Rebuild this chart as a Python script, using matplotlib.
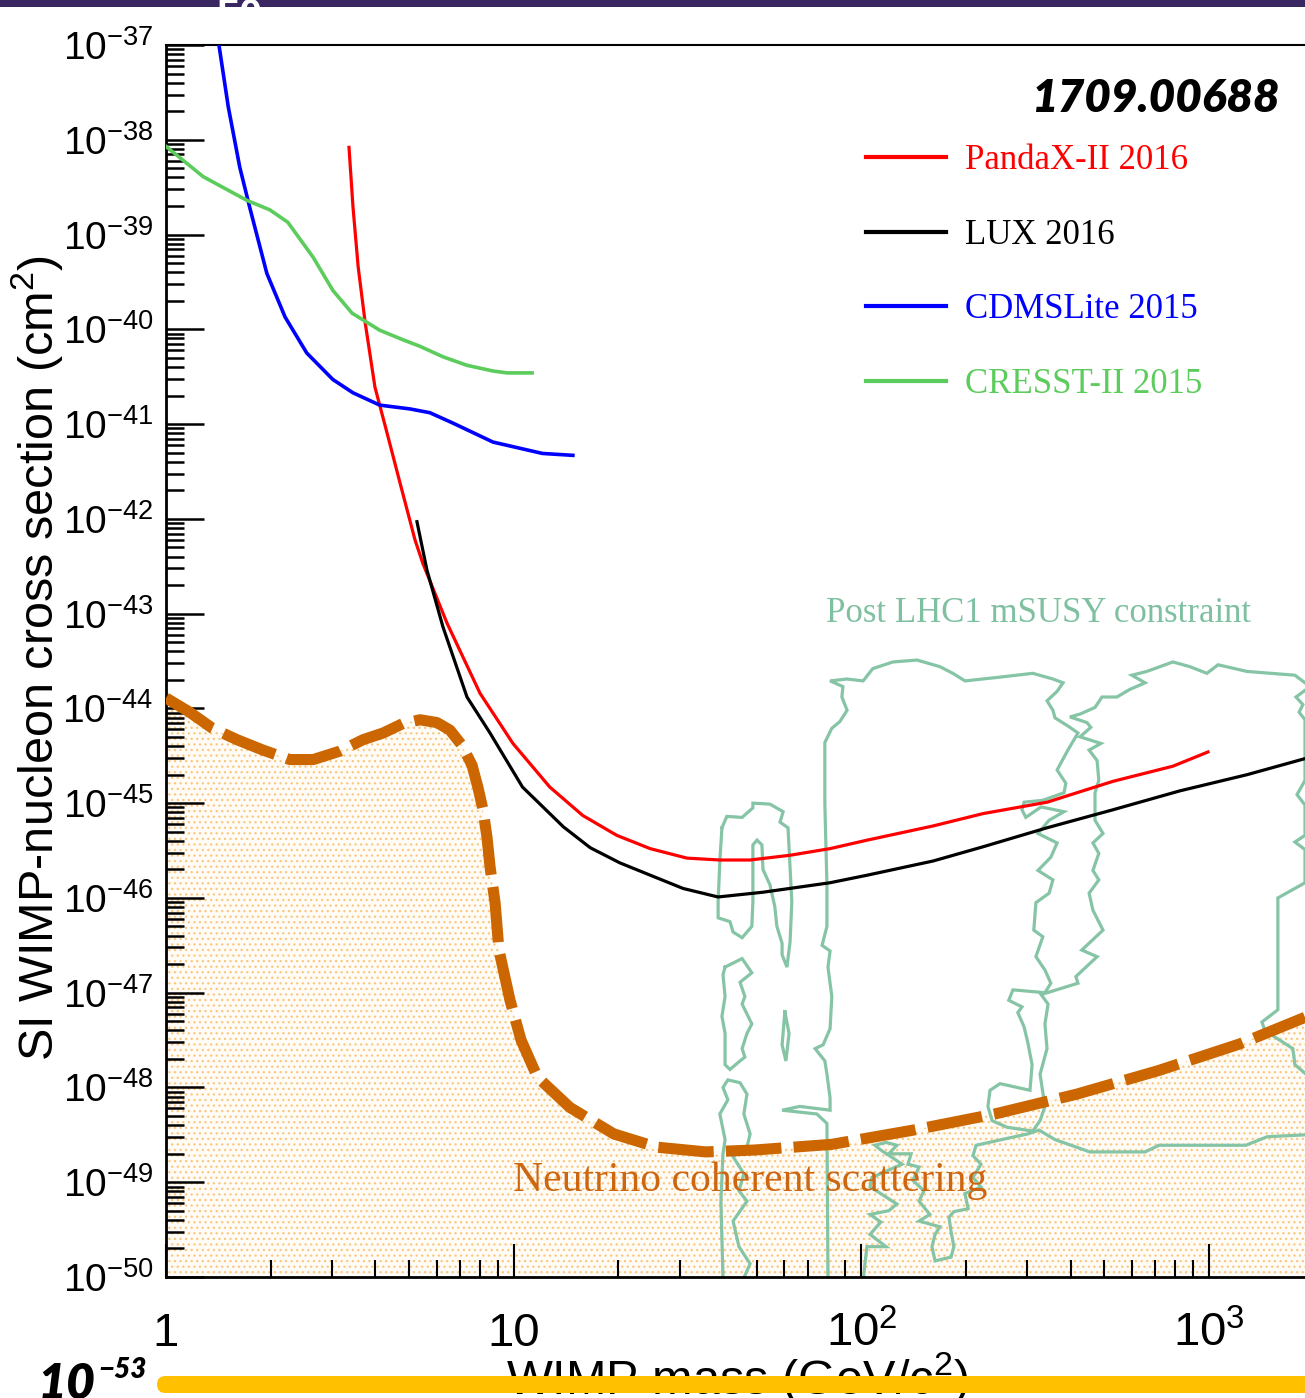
import numpy as np
import matplotlib
matplotlib.use("Agg")
import matplotlib.pyplot as plt
from matplotlib.patches import Rectangle, FancyBboxPatch
from matplotlib.ticker import FixedLocator, NullFormatter
from matplotlib.transforms import blended_transform_factory

plt.rcParams['font.family'] = ['Liberation Sans', 'DejaVu Sans']
plt.rcParams['mathtext.fontset'] = 'custom'
plt.rcParams['mathtext.rm'] = 'Liberation Sans'
plt.rcParams['mathtext.it'] = 'Liberation Sans:italic'
plt.rcParams['mathtext.bf'] = 'Liberation Sans:bold'
plt.rcParams['hatch.linewidth'] = 0.9
plt.rcParams['hatch.color'] = '#fcc77c'

# ---------------- data (WIMP mass in GeV, log10 of cross section in cm^2) -------------
pandax_mass = [3.36, 3.45, 3.57, 3.74, 3.99, 4.32, 4.71, 5.20, 5.48, 6.43, 8.00, 9.95, 12.7, 15.8,
               19.8, 24.7, 31.5, 39.2, 47.8, 62.3, 81.2, 104, 161, 224, 342, 529, 787, 993]
pandax_logxs = [-38.08, -38.71, -39.34, -39.93, -40.61, -41.09, -41.62, -42.22, -42.47, -43.10,
                -43.84, -44.37, -44.83, -45.13, -45.34, -45.48, -45.58, -45.60, -45.60, -45.55,
                -45.48, -45.39, -45.24, -45.11, -44.99, -44.77, -44.61, -44.46]

lux_mass = [5.27, 5.63, 6.26, 7.34, 8.55, 10.6, 13.9, 16.6, 20.2, 24.7, 30.7, 38.7, 52.1, 81.2,
            104, 161, 224, 342, 529, 825, 1285, 1888]
lux_logxs = [-42.03, -42.54, -43.14, -43.88, -44.26, -44.83, -45.25, -45.47, -45.63, -45.76,
             -45.90, -45.99, -45.94, -45.84, -45.76, -45.61, -45.46, -45.26, -45.07, -44.87,
             -44.70, -44.53]

cdms_mass = [1.42, 1.51, 1.63, 1.74, 1.95, 2.20, 2.54, 3.02, 3.45, 4.12, 5.03, 5.74, 6.69, 8.72,
             12.1, 14.8]
cdms_logxs = [-37.00, -37.65, -38.29, -38.71, -39.41, -39.87, -40.25, -40.53, -40.67, -40.80,
              -40.84, -40.88, -40.99, -41.19, -41.31, -41.33]

cresst_mass = [1.0, 1.28, 1.71, 1.99, 2.24, 2.65, 3.02, 3.43, 4.12, 4.80, 5.38, 6.26, 7.34, 8.72,
               9.57, 11.3]
cresst_logxs = [-38.07, -38.39, -38.64, -38.74, -38.87, -39.24, -39.59, -39.83, -40.01, -40.11,
                -40.18, -40.29, -40.38, -40.44, -40.46, -40.46]

nu_mass = [1.0, 1.17, 1.36, 1.60, 1.90, 2.27, 2.65, 3.17, 3.69, 4.21, 4.80, 5.38, 6.02, 6.56,
           7.10, 7.59, 7.90, 8.16, 8.38, 8.55, 8.84, 9.07, 9.76, 10.5, 11.7, 14.5, 19.4, 25.8,
           35.7, 49.4, 82.3, 141, 242, 417, 718, 1227, 1888]
nu_logxs = [-43.89, -44.04, -44.21, -44.33, -44.44, -44.54, -44.54, -44.45, -44.33, -44.26,
            -44.16, -44.12, -44.15, -44.23, -44.39, -44.60, -44.84, -45.07, -45.36, -45.67,
            -46.05, -46.55, -47.08, -47.50, -47.89, -48.21, -48.49, -48.63, -48.68, -48.66,
            -48.60, -48.45, -48.28, -48.07, -47.82, -47.54, -47.26]

# mSUSY contour outlines: (log10 mass, log10 cross section)
msusy_a = [(1.599, -45.26), (1.613, -45.14), (1.657, -45.15), (1.688, -45.05), (1.688, -45.00),
           (1.737, -45.01), (1.775, -45.09), (1.766, -45.20), (1.789, -45.26), (1.800, -46.04),
           (1.795, -46.46), (1.786, -46.73), (1.772, -46.60), (1.772, -46.48), (1.757, -46.30),
           (1.751, -46.09), (1.737, -45.86), (1.717, -45.70), (1.714, -45.44), (1.700, -45.39),
           (1.688, -45.44), (1.688, -46.04), (1.685, -46.30), (1.657, -46.42), (1.631, -46.36),
           (1.622, -46.25), (1.588, -46.21), (1.588, -46.04), (1.593, -45.61), (1.599, -45.26)]
msusy_b = [(1.608, -46.73), (1.657, -46.64), (1.685, -46.79), (1.651, -46.89), (1.665, -47.04),
           (1.657, -47.12), (1.685, -47.33), (1.671, -47.43), (1.657, -47.59), (1.665, -47.68),
           (1.651, -47.72), (1.622, -47.81), (1.608, -47.76), (1.608, -47.43), (1.599, -47.25),
           (1.608, -47.04), (1.602, -46.81), (1.608, -46.73)]
msusy_c = [(1.602, -50.01), (1.596, -49.20), (1.602, -48.70), (1.608, -48.55), (1.593, -48.28),
           (1.616, -48.13), (1.602, -48.00), (1.616, -47.92), (1.651, -47.95), (1.671, -48.07),
           (1.662, -48.28), (1.680, -48.49), (1.671, -48.63), (1.631, -48.73), (1.662, -48.91),
           (1.648, -49.09), (1.671, -49.20), (1.631, -49.41), (1.648, -49.68), (1.680, -49.86),
           (1.662, -50.01)]
msusy_d = [(1.780, -47.20), (1.792, -47.43), (1.783, -47.72), (1.772, -47.55), (1.780, -47.20)]
msusy_e = [(1.904, -50.01), (1.901, -48.38), (1.872, -48.28), (1.772, -48.24), (1.823, -48.20),
           (1.910, -48.24), (1.910, -48.11), (1.901, -47.86), (1.895, -47.72), (1.867, -47.59),
           (1.890, -47.55), (1.910, -47.38), (1.915, -47.04), (1.904, -46.73), (1.910, -46.56),
           (1.887, -46.50), (1.901, -46.30), (1.901, -45.86), (1.895, -45.01), (1.895, -44.36),
           (1.915, -44.21), (1.938, -44.14), (1.959, -44.02), (1.944, -43.88), (1.947, -43.77),
           (1.910, -43.71), (1.959, -43.69), (2.005, -43.71), (2.033, -43.58), (2.091, -43.51),
           (2.160, -43.49), (2.226, -43.56), (2.263, -43.63), (2.298, -43.71), (2.399, -43.67),
           (2.493, -43.63), (2.551, -43.69), (2.580, -43.73), (2.563, -43.82), (2.534, -43.92),
           (2.551, -44.02), (2.557, -44.10), (2.600, -44.20), (2.623, -44.26), (2.594, -44.44),
           (2.563, -44.65), (2.588, -44.79), (2.583, -44.89), (2.522, -44.97), (2.468, -44.99),
           (2.462, -45.07), (2.473, -45.15), (2.517, -45.04), (2.583, -45.09), (2.540, -45.18),
           (2.508, -45.32), (2.563, -45.42), (2.545, -45.57), (2.508, -45.71), (2.551, -45.81),
           (2.540, -45.95), (2.502, -46.05), (2.496, -46.34), (2.522, -46.41), (2.502, -46.62),
           (2.528, -46.76), (2.545, -46.90), (2.528, -47.00), (2.436, -46.97), (2.424, -47.08),
           (2.462, -47.15), (2.450, -47.21), (2.468, -47.36), (2.479, -47.53), (2.491, -47.76),
           (2.485, -48.03), (2.436, -47.99), (2.399, -47.96), (2.370, -48.03), (2.364, -48.20),
           (2.376, -48.35), (2.419, -48.42), (2.493, -48.46), (2.514, -48.35), (2.528, -48.20),
           (2.514, -47.86), (2.534, -47.59), (2.528, -47.33), (2.537, -47.12), (2.517, -47.02),
           (2.623, -46.90), (2.617, -46.83), (2.678, -46.62), (2.634, -46.55), (2.695, -46.34),
           (2.666, -46.13), (2.655, -45.95), (2.683, -45.81), (2.666, -45.71), (2.683, -45.53),
           (2.666, -45.42), (2.695, -45.32), (2.672, -45.18), (2.672, -44.89), (2.683, -44.76),
           (2.678, -44.55), (2.655, -44.44), (2.689, -44.37), (2.629, -44.30), (2.660, -44.20),
           (2.649, -44.15), (2.600, -44.09), (2.629, -44.06), (2.672, -43.99), (2.692, -43.88),
           (2.735, -43.88), (2.772, -43.80), (2.816, -43.73), (2.778, -43.65), (2.821, -43.61),
           (2.896, -43.51), (2.945, -43.56), (2.994, -43.63), (3.026, -43.54), (3.109, -43.61),
           (3.247, -43.65), (3.276, -43.73)]
msusy_f = [(3.276, -43.81), (3.250, -43.88), (3.270, -43.96), (3.259, -44.04), (3.276, -44.12),
           (3.276, -44.76), (3.253, -44.91), (3.276, -45.02), (3.276, -45.34), (3.247, -45.41),
           (3.276, -45.49), (3.276, -45.84), (3.198, -46.00), (3.198, -47.18), (3.152, -47.31),
           (3.161, -47.40), (3.241, -47.59), (3.247, -47.76), (3.276, -47.85)]
msusy_g = [(3.276, -48.50), (3.167, -48.52), (3.106, -48.61), (2.856, -48.61), (2.816, -48.68),
           (2.657, -48.68), (2.557, -48.55), (2.511, -48.45), (2.479, -48.49), (2.416, -48.54),
           (2.330, -48.61), (2.321, -48.72), (2.344, -48.81), (2.321, -48.95), (2.344, -49.05),
           (2.298, -49.12), (2.307, -49.28), (2.266, -49.31), (2.252, -49.37), (2.258, -49.52),
           (2.266, -49.68), (2.258, -49.79), (2.212, -49.83), (2.203, -49.68), (2.212, -49.55),
           (2.226, -49.47), (2.166, -49.41), (2.197, -49.34), (2.166, -49.20), (2.180, -49.09),
           (2.148, -48.98), (2.166, -48.84), (2.134, -48.81), (2.143, -48.70), (2.079, -48.70),
           (2.102, -48.61), (2.071, -48.58), (2.039, -48.61), (2.056, -48.66), (2.085, -48.73),
           (2.117, -48.81), (2.030, -48.95), (2.025, -49.05), (2.056, -49.12), (2.102, -49.23),
           (2.079, -49.30), (2.025, -49.34), (2.056, -49.42), (2.025, -49.55), (2.071, -49.68),
           (2.016, -49.68), (2.007, -49.97), (2.007, -50.01)]

xtick_values = [1, 10, 100, 1000]
xtick_labels = ['1', '10', '10$^{2}$', '10$^{3}$']
ytick_exponents = list(range(-50, -36))

# ---------------- figure ----------------
W, H = 1305, 1398
fig = plt.figure(figsize=(W / 100, H / 100), dpi=100)
ax = fig.add_axes([166 / W, (H - 1277) / H, (W - 166) / W, (1277 - 45) / H])
ax.set_xscale('log')
ax.set_yscale('log')
ax.set_xlim(1, 10 ** 3.276)
ax.set_ylim(1e-50, 1e-37)

green_c = '#5ccc5c'
msusy_c_col = '#85c4a5'
nu_col = '#cc6600'

# neutrino floor
nu_y = 10 ** np.array(nu_logxs)
ax.fill_between(nu_mass, nu_y, 1e-50, facecolor='#fffcf7', edgecolor='#fcc77c',
                hatch='...', linewidth=0, zorder=1)
ax.plot(nu_mass, nu_y, color=nu_col, lw=8, linestyle=(0, (5.0, 1.1)),
        dash_capstyle='butt', zorder=4)

# mSUSY contours
for cont in (msusy_a, msusy_b, msusy_c, msusy_d, msusy_e, msusy_f, msusy_g):
    arr = np.array(cont)
    ax.plot(10 ** arr[:, 0], 10 ** arr[:, 1], color=msusy_c_col, lw=2.3, zorder=2,
            solid_joinstyle='miter')

l_red, = ax.plot(pandax_mass, 10 ** np.array(pandax_logxs), color='#ff0000', lw=2.3,
                 label='PandaX-II 2016', zorder=5)
l_blk, = ax.plot(lux_mass, 10 ** np.array(lux_logxs), color='black', lw=2.3,
                 label='LUX 2016', zorder=5)
l_blu, = ax.plot(cdms_mass, 10 ** np.array(cdms_logxs), color='#0000ff', lw=2.6,
                 label='CDMSLite 2015', zorder=5)
l_grn, = ax.plot(cresst_mass, 10 ** np.array(cresst_logxs), color=green_c, lw=2.6,
                 label='CRESST-II 2015', zorder=5)

leg = ax.legend(handles=[l_red, l_blk, l_blu, l_grn], loc='upper left',
                bbox_to_anchor=(866 / W, (H - 144) / H), bbox_transform=fig.transFigure,
                frameon=False, borderpad=0, borderaxespad=0, handlelength=2.3,
                handletextpad=0.55, labelspacing=1.2, labelcolor='linecolor',
                prop={'family': 'Liberation Serif', 'size': 25})
for h in leg.legend_handles:
    h.set_linewidth(3)

# spines / ticks
ax.spines['right'].set_visible(False)
for s in ('left', 'bottom'):
    ax.spines[s].set_linewidth(2)
ax.spines['top'].set_linewidth(1.5)

ax.xaxis.set_major_locator(FixedLocator(xtick_values))
xminor = [m * 10 ** k for k in range(0, 4) for m in range(2, 10) if m * 10 ** k < 10 ** 3.276]
ax.xaxis.set_minor_locator(FixedLocator(xminor))
ax.xaxis.set_major_formatter(NullFormatter())
ax.xaxis.set_minor_formatter(NullFormatter())

ax.yaxis.set_major_locator(FixedLocator([10.0 ** e for e in ytick_exponents]))
yminor = [m * 10.0 ** k for k in range(-50, -37) for m in range(2, 10)]
ax.yaxis.set_minor_locator(FixedLocator(yminor))
ax.set_yticklabels(['$10^{%d}$' % e for e in ytick_exponents])
ax.yaxis.set_minor_formatter(NullFormatter())

ax.tick_params(axis='x', which='major', direction='in', length=24, width=1.5,
               top=False, bottom=True)
ax.tick_params(axis='x', which='minor', direction='in', length=12, width=1.5,
               top=False, bottom=True)
ax.tick_params(axis='y', which='major', direction='in', length=27, width=1.8,
               right=False, left=True, labelsize=28, pad=9)
ax.tick_params(axis='y', which='minor', direction='in', length=13, width=1.8,
               right=False, left=True)

trans = blended_transform_factory(ax.transData, ax.transAxes)
for xv, lab in zip(xtick_values, xtick_labels):
    ax.text(xv, (1277 - 1346) / 1232, lab, transform=trans, ha='center', va='baseline',
            fontsize=34, clip_on=False)

# annotations
fig.text(826 / W, 1 - 622 / H, 'Post LHC1 mSUSY constraint', family='Liberation Serif',
         fontsize=25, color='#7fc0a0', va='baseline', ha='left')
fig.text(513 / W, 1 - 1191 / H, 'Neutrino coherent scattering', family='Liberation Serif',
         fontsize=30, color='#cc6611', va='baseline', ha='left', zorder=6)
fig.text(1280 / W, 1 - 112 / H, '1709.00688', family='Lato', fontweight='heavy',
         style='italic', fontsize=33, ha='right', va='baseline')

# axis titles
fig.text(37 / W, 1 - 658 / H, 'SI WIMP-nucleon cross section (cm$^{2}$)', rotation=90,
         ha='center', va='center', fontsize=35)
fig.text(737 / W, 1 - 1350 / H, 'WIMP mass (GeV/c$^{2}$)', ha='center', va='top', fontsize=35)

# slide decorations
fig.patches.append(Rectangle((0, 1 - 7 / H), 1, 7 / H, transform=fig.transFigure,
                             facecolor='#3a2762', edgecolor='none', zorder=5))
fig.text(217 / W, 1 + 3 / H, '50', color='white', fontsize=30, fontweight='bold',
         va='top', ha='left', zorder=6)
bar = FancyBboxPatch((157, H - 1393), 1300, 17, boxstyle='round,pad=0,rounding_size=8.5',
                     transform=None, facecolor='#ffc000', edgecolor='none', zorder=7)
fig.patches.append(bar)
fig.text(38 / W, -1 / H, '10', family='Lato', fontweight='heavy', style='italic',
         fontsize=36, ha='left', va='baseline', zorder=8)
fig.text(98 / W, 1 - 1378 / H, '\u221253', family='Lato', fontweight='heavy', style='italic',
         fontsize=20, ha='left', va='baseline', zorder=8)

fig.savefig('out.png', dpi=100)
